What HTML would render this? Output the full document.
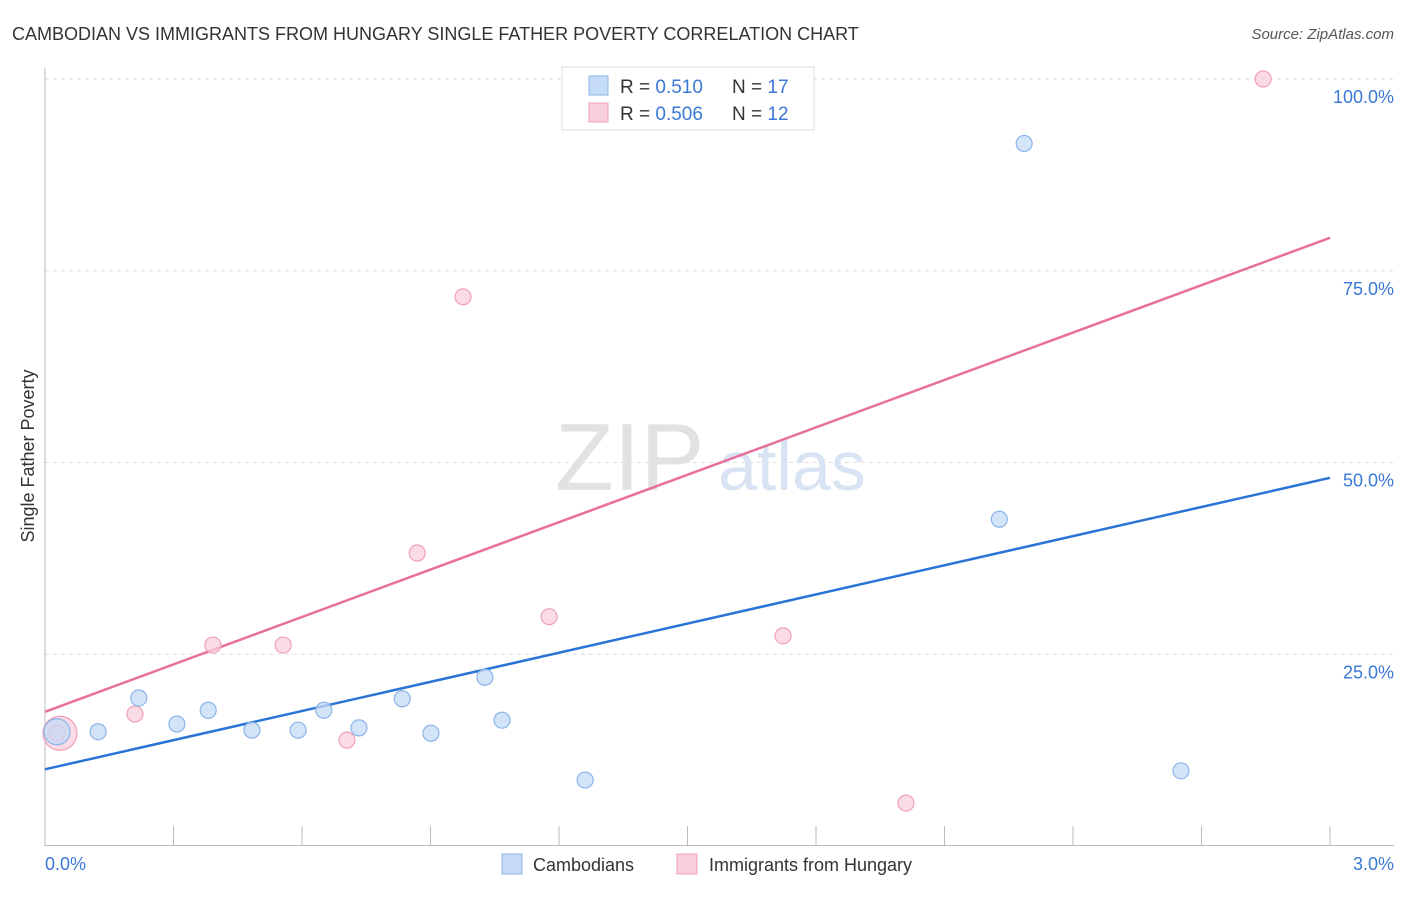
<!DOCTYPE html>
<html><head><meta charset="utf-8">
<style>
body{margin:0;background:#fff;font-family:"Liberation Sans",sans-serif;}
svg text{font-family:"Liberation Sans",sans-serif;}
</style></head>
<body>
<svg id="chart" width="1406" height="892" viewBox="0 0 1406 892" xmlns="http://www.w3.org/2000/svg">
<text x="12" y="40" font-size="18" fill="#333">CAMBODIAN VS IMMIGRANTS FROM HUNGARY SINGLE FATHER POVERTY CORRELATION CHART</text>
<text x="1394" y="39" font-size="15" fill="#555" font-style="italic" text-anchor="end">Source: ZipAtlas.com</text>
<g id="grid"></g>
<g>
<text x="555" y="490" font-size="96" fill="#e2e2e2" font-family="Liberation Serif">ZIP</text>
<text x="718" y="490" font-size="70" fill="#d8e4f4">atlas</text>
</g>
<line x1="45" y1="68" x2="45" y2="846" stroke="#bbb"/>
<line x1="45" y1="845.5" x2="1394" y2="845.5" stroke="#bbb"/>
<g id="xticks"></g>
<g id="ylabels"></g>
<text x="45" y="870" font-size="18" fill="#3a78d6">0.0%</text>
<text x="1394" y="870" font-size="18" fill="#3a78d6" text-anchor="end">3.0%</text>
<text transform="translate(34,456) rotate(-90)" font-size="18" fill="#333" text-anchor="middle">Single Father Poverty</text>
<g id="lines"></g>
<g id="points"></g>
<g>
<rect x="562" y="67" width="252" height="63" fill="#fff" stroke="#ddd"/>
<rect x="589" y="76" width="19" height="19" fill="#c6dbf5" stroke="#8ab4e8"/>
<text x="620" y="93" font-size="19" fill="#333">R = <tspan fill="#3a78d6"> 0.510</tspan></text>
<text x="732" y="93" font-size="19" fill="#333">N = <tspan fill="#3a78d6">17</tspan></text>
<rect x="589" y="103" width="19" height="19" fill="#f9cfdc" stroke="#f0a0b8"/>
<text x="620" y="120" font-size="19" fill="#333">R = <tspan fill="#3a78d6">0.506</tspan></text>
<text x="732" y="120" font-size="19" fill="#333">N = <tspan fill="#3a78d6">12</tspan></text>
</g>
<g>
<rect x="502" y="854" width="20" height="20" fill="#c6dbf5" stroke="#8ab4e8"/>
<text x="533" y="871" font-size="18" fill="#333">Cambodians</text>
<rect x="677" y="854" width="20" height="20" fill="#f9cfdc" stroke="#f0a0b8"/>
<text x="709" y="871" font-size="18" fill="#333">Immigrants from Hungary</text>
</g>
</svg>
<script>
const yTicks=[25,50,75,100];
const yTickLabels=["25.0%","50.0%","75.0%","100.0%"];
const xTickVals=[0,0.3,0.6,0.9,1.2,1.5,1.8,2.1,2.4,2.7,3.0];
const blueX=[0.028,0.124,0.219,0.308,0.381,0.483,0.591,0.651,0.733,0.834,0.901,1.027,1.067,1.261,2.228,2.286,2.652];
const blueY=[14.9,14.9,19.3,15.9,17.7,15.1,15.1,17.7,15.4,19.2,14.7,22.0,16.4,8.6,42.6,91.6,9.8];
const blueR=[13,8,8,8,8,8,8,8,8,8,8,8,8,8,8,8,8];
const pinkX=[0.035,0.028,0.210,0.392,0.556,0.705,0.869,0.976,1.177,1.723,2.010,2.844];
const pinkY=[14.7,14.7,17.2,26.2,26.2,13.8,38.2,71.6,29.9,27.4,5.6,100];
const pinkR=[17,8,8,8,8,8,8,8,8,8,8,8];
const blueTrend=[10.0,48.0];
const pinkTrend=[17.5,79.3];
const NS="http://www.w3.org/2000/svg";
const xs=v=>45+v*(1285/3);
const ys=v=>846-v*(767/100);
function mk(tag,attrs,parent){const e=document.createElementNS(NS,tag);for(const k in attrs)e.setAttribute(k,attrs[k]);document.getElementById(parent).appendChild(e);return e;}
yTicks.forEach((t,i)=>{
 const l=mk('line',{x1:45,x2:1394,y1:ys(t),y2:ys(t),stroke:'#ddd','stroke-dasharray':'4,4'},'grid');
 
 
 const tx=mk('text',{x:1394,y:ys(t)+24,'font-size':18,fill:'#3a78d6','text-anchor':'end'},'ylabels');
 tx.textContent=yTickLabels[i];
 
 
});
xTickVals.forEach(v=>{
 const l=mk('line',{x1:xs(v),x2:xs(v),y1:826,y2:845,stroke:'#bbb'},'xticks');
 
 
});
const bl=mk('line',{x1:xs(0),x2:xs(3),y1:ys(blueTrend[0]),y2:ys(blueTrend[1]),stroke:'#2a74d6','stroke-width':2.5},'lines');


const pl=mk('line',{x1:xs(0),x2:xs(3),y1:ys(pinkTrend[0]),y2:ys(pinkTrend[1]),stroke:'#e8709a','stroke-width':2.5},'lines');


pinkX.forEach((x,i)=>{
 const c=mk('circle',{cx:xs(x),cy:ys(pinkY[i]),r:pinkR[i],fill:'#f9cfdc','fill-opacity':0.75,stroke:'#f0a0b8','stroke-width':1.2},'points');
 
 
});
blueX.forEach((x,i)=>{
 const c=mk('circle',{cx:xs(x),cy:ys(blueY[i]),r:blueR[i],fill:'#c6dbf5','fill-opacity':0.75,stroke:'#8ab4e8','stroke-width':1.2},'points');
 
 
});
</script>
</body></html>
